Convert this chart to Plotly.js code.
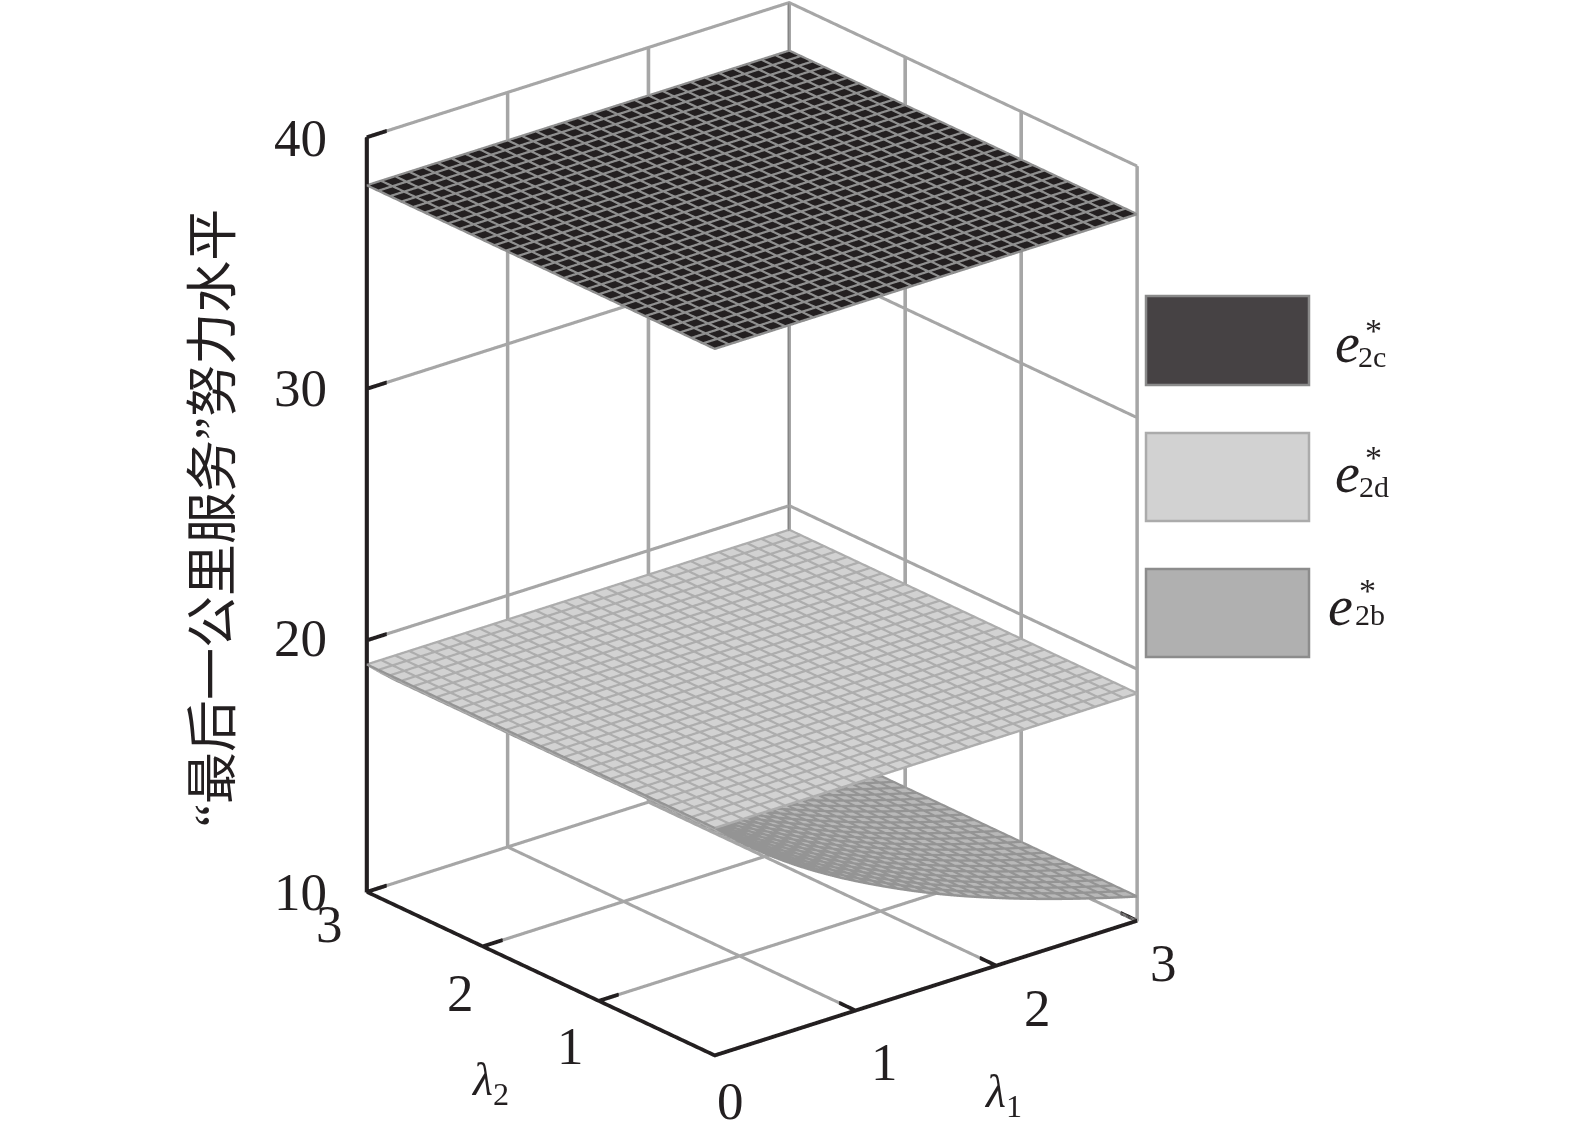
<!DOCTYPE html>
<html><head><meta charset="utf-8">
<script src="https://cdn.plot.ly/plotly-3.0.1.min.js"></script>
<style>html,body{margin:0;padding:0;background:#fff}</style></head>
<body><div id="chart" style="width:1575px;height:1140px"></div>
<script>
const lambdaGrid=[0,0.1,0.2,0.3,0.4,0.5,0.6,0.7,0.8,0.9,1,1.1,1.2,1.3,1.4,1.5,1.6,1.7,1.8,1.9,2,2.1,2.2,2.3,2.4,2.5,2.6,2.7,2.8,2.9,3];
const e2cValues=[38.05,38.05,38.05,38.05,38.05,38.05,38.05,38.05,38.05,38.05,38.05,38.05,38.05,38.05,38.05,38.05,38.05,38.05,38.05,38.05,38.05,38.05,38.05,38.05,38.05,38.05,38.05,38.05,38.05,38.05,38.05];
const e2dValues=[19,19,19,19,19,19,19,19,19,19,19,19,19,19,19,19,19,19,19,19,19,19,19,19,19,19,19,19,19,19,19];
const e2bValues=[19,18.5,18.03,17.59,17.17,16.78,16.41,16.06,15.73,15.41,15.11,14.82,14.54,14.27,14.01,13.76,13.52,13.29,13.07,12.86,12.655,12.455,12.265,12.08,11.9,11.725,11.555,11.39,11.23,11.075,10.925];
const lambdaTicks=[0,1,2,3];
const zTicks=[10,20,30,40];
const legendNames=['2c','2d','2b'];
const legendFill=['#464244','#d2d2d2','#b0b0b0'];
const legendEdge=['#8a8a8a','#ababab','#8c8c8c'];
const serif='"Liberation Serif","Times New Roman",serif';
const W=1575,H=1140;

function surf(values,color){
  return {type:'surface',x:lambdaGrid,y:lambdaGrid,z:lambdaGrid.map(()=>values),
    cmin:0,cmax:1,surfacecolor:lambdaGrid.map(()=>values.map(()=>0.5)),
    colorscale:[[0,color],[1,color]],showscale:false,hoverinfo:'skip',
    lighting:{ambient:1,diffuse:0,specular:0,fresnel:0,roughness:1}};
}
// The renderer draws GL lines one pixel wide, so a wide line is a polyline of near-coincident passes.
function mesh(values,color,lifts){
  const x=[],y=[],z=[];
  let flip=false;
  const put=(a,b,v)=>{x.push(a);y.push(b);z.push(v);};
  const n=lambdaGrid.length;
  for(let i=0;i<n;i++){ // lines of constant lambda1
    lifts.forEach(l=>{
      for(let j=0;j<n;j++){const jj=flip?n-1-j:j;put(lambdaGrid[i],lambdaGrid[jj],values[i]+l);}
      flip=!flip;
    });
  }
  let back=false;
  for(let j=0;j<n;j++){ // lines of constant lambda2
    const jj=flip?n-1-j:j;
    lifts.forEach(l=>{
      for(let i=0;i<n;i++){const ii=back?n-1-i:i;put(lambdaGrid[ii],lambdaGrid[jj],values[ii]+l);}
      back=!back;
    });
  }
  return {type:'scatter3d',mode:'lines',x,y,z,line:{color,width:2},hoverinfo:'skip',showlegend:false};
}
function thick(a,b,dim,offs,color){
  const x=[],y=[],z=[];
  offs.forEach((o,k)=>{
    const p=k%2?b:a,q=k%2?a:b;
    [p,q].forEach(s=>{const c=s.slice();c[dim]+=o;x.push(c[0]);y.push(c[1]);z.push(c[2]);});
  });
  return {type:'scatter3d',mode:'lines',x,y,z,line:{color,width:2},hoverinfo:'skip',showlegend:false};
}
const L0=lambdaTicks[0],L1=lambdaTicks[3],Z0=zTicks[0],Z1=zTicks[3];
const vx=[-0.009,-0.003,0.003,0.009],vy=[-0.011,-0.004,0.004,0.011],hz=[-0.045,-0.015,0.015,0.045];
const GR='#a6a6a6',BK='#231f20';
const tickLen=0.14;
const data=[];
const bz=[-0.06,-0.03,0,0.03,0.06];
data.push(thick([L0,L0,Z0],[L1,L0,Z0],2,bz,BK));
data.push(thick([L0,L0,Z0],[L0,L1,Z0],2,bz,BK));
data.push(thick([L0,L1,Z0],[L0,L1,Z1],0,[-0.011,-0.005,0,0.005,0.011],BK));
lambdaTicks.slice(1).forEach(t=>{
  data.push(thick([t,L0,Z0],[t,L0+tickLen,Z0],2,bz,BK));
  data.push(thick([L0,t,Z0],[L0+tickLen,t,Z0],2,bz,BK));
});
zTicks.forEach(v=>data.push(thick([L0,L1,v],[L0+tickLen,L1,v],2,bz,BK)));
// grey grid lines start where the black ticks end
lambdaTicks.forEach(t=>{
  if(t>L0)data.push(thick([t,L1,Z0],[t,L1,Z1],0,vx,t===L1?'#858585':GR));
  data.push(thick([L1,t,Z0],[L1,t,Z1],1,vy,GR));
  if(t>L0){
    data.push(thick([t,L0+tickLen,Z0],[t,L1,Z0],2,hz,GR));
    data.push(thick([L0+tickLen,t,Z0],[L1,t,Z0],2,hz,GR));
  }
});
zTicks.forEach(v=>{
  data.push(thick([L0+tickLen,L1,v],[L1,L1,v],2,hz,GR));
  data.push(thick([L1,L0,v],[L1,L1,v],2,hz,GR));
});
const lifts=[0.01,0.04,0.07];
data.push(surf(e2cValues,'#231f20'),mesh(e2cValues,'#8f8f8f',lifts));
data.push(surf(e2dValues,'#d2d2d2'),mesh(e2dValues,'#adadad',lifts));
data.push(surf(e2bValues,'#b8b8b8'),mesh(e2bValues,'#949494',lifts));

const axis=(range,tickvals)=>({range,tickvals,title:{text:''},showgrid:false,zeroline:false,showline:false,
  showticklabels:false,ticks:'',showbackground:false,showspikes:false,autorange:false});

const tf={family:serif,size:53,color:'#231f20'};
const sceneAnn=[];
const zShift=[[-66,0],[-66,2],[-66,1],[-66,-1]];
zTicks.forEach((v,i)=>sceneAnn.push({x:L0,y:L1,z:v,text:String(v),showarrow:false,font:tf,xshift:zShift[i][0],yshift:zShift[i][1]}));
const l2Shift=[null,[-28,-45],[-22,-47],[-37,-32]];
const l1Shift=[[16,-46],[29,-52],[41,-42],[26,-42]];
lambdaTicks.forEach((t,i)=>{
  sceneAnn.push({x:t,y:L0,z:Z0,text:String(t),showarrow:false,font:tf,xshift:l1Shift[i][0],yshift:l1Shift[i][1]});
  if(i>0)sceneAnn.push({x:L0,y:t,z:Z0,text:String(t),showarrow:false,font:tf,xshift:l2Shift[i][0],yshift:l2Shift[i][1]});
});

const px=x=>x/W, py=y=>1-y/H;
const note=(x,y,text,size,extra)=>Object.assign({xref:'paper',yref:'paper',x:px(x),y:py(y),xanchor:'center',yanchor:'middle',
  text,showarrow:false,font:{family:serif,size,color:'#231f20'}},extra||{});
const ann=[
  note(213,518,'“最后一公里服务”努力水平',52,{textangle:-90,font:{family:serif+',"Noto Sans CJK SC"',size:52,color:'#231f20'}}),
  note(1003,1095,'<i>λ</i><sub>1</sub>',46),
  note(490,1083,'<i>λ</i><sub>2</sub>',46)
];
const boxY=[[296,385],[433,521],[569,657]];
const eXY=[[1347,343],[1347,473],[1340,606]];
const starXY=[[1373,330],[1373,457],[1367,590]];
const subXY=[[1372,356],[1374,486],[1370,614]];
const shapes=legendNames.map((n,i)=>({type:'rect',xref:'paper',yref:'paper',x0:px(1146),x1:px(1309),y0:py(boxY[i][1]),y1:py(boxY[i][0]),
  fillcolor:legendFill[i],line:{color:legendEdge[i],width:2.5}}));
legendNames.forEach((n,i)=>{
  ann.push(note(eXY[i][0],eXY[i][1],'<i>e</i>',56));
  ann.push(note(starXY[i][0],starXY[i][1],'*',34));
  ann.push(note(subXY[i][0],subXY[i][1],n,30));
});

// Ranges carry a small pad so wide lines on the box edges are not clipped; aspect grows to keep the same scale.
const lamPad=0.03,zPad=0.2,scale=1.0345;
const lamRange=[L0-lamPad,L1+lamPad],zRange=[Z0-zPad,Z1+zPad];
const aL=scale*(lamRange[1]-lamRange[0])/(L1-L0),aZ=1.4955*scale*(zRange[1]-zRange[0])/(Z1-Z0);
const layout={width:W,height:H,margin:{l:0,r:0,t:0,b:0},paper_bgcolor:'#fff',showlegend:false,
  shapes,annotations:ann,
  scene:{domain:{x:[0,0.955],y:[0.072,1]},aspectmode:'manual',aspectratio:{x:aL,y:aL,z:aZ},
    camera:{projection:{type:'orthographic'},eye:{x:-1.172,y:-1.423,z:0.774},center:{x:0,y:0,z:0},up:{x:0,y:0,z:1}},
    xaxis:axis(lamRange,lambdaTicks),yaxis:axis(lamRange,lambdaTicks),zaxis:axis(zRange,zTicks),
    annotations:sceneAnn,bgcolor:'#fff',dragmode:false}};
Plotly.newPlot('chart',data,layout,{displayModeBar:false});
</script></body></html>
